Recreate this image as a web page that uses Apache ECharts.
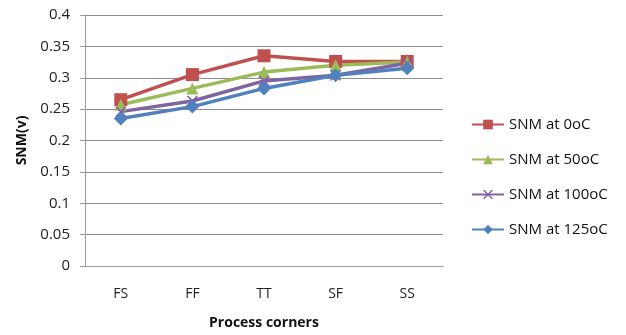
<!DOCTYPE html>
<html><head><meta charset="utf-8">
<script src="https://cdn.jsdelivr.net/npm/echarts@6/dist/echarts.min.js"></script>
<style>html,body{margin:0;padding:0;background:#fff}#c{width:626px;height:335px}</style>
</head><body><div id="c"></div>
<script>
var categories = ['FS', 'FF', 'TT', 'SF', 'SS'];
var snm0 = [0.265, 0.305, 0.335, 0.326, 0.326];
var snm50 = [0.257, 0.283, 0.309, 0.320, 0.325];
var snm100 = [0.246, 0.263, 0.295, 0.304, 0.323];
var snm125 = [0.235, 0.254, 0.283, 0.304, 0.315];
var seriesNames = ['SNM at 0oC', 'SNM at 50oC', 'SNM at 100oC', 'SNM at 125oC'];
var yTicks = [0, 0.05, 0.1, 0.15, 0.2, 0.25, 0.3, 0.35, 0.4];

var font = 'Open Sans, Liberation Sans, sans-serif';
var xPath = 'path://M1,0 L5,4 L9,0 L10,1 L6,5 L10,9 L9,10 L5,6 L1,10 L0,9 L4,5 L0,1 Z';
function mk(name, data, color, symbol, size) {
  return {
    name: name, type: 'line', data: data, symbol: symbol, symbolSize: size,
    lineStyle: { color: color, width: 3.5 },
    itemStyle: { color: color },
    showAllSymbol: true
  };
}
var chart = echarts.init(document.getElementById('c'));
chart.setOption({
  animation: false,
  grid: { left: 85, right: 183, top: 15, bottom: 69 },
  legend: {
    orient: 'vertical', left: 466, top: 112, itemGap: 20,
    itemWidth: 32, itemHeight: 12,
    textStyle: { fontFamily: font, fontSize: 15, color: '#111' },
    data: seriesNames
  },
  xAxis: {
    type: 'category', data: categories, boundaryGap: true,
    name: 'Process corners', nameLocation: 'middle', nameGap: 50,
    nameTextStyle: { fontFamily: font, fontSize: 14, fontWeight: 'bold', color: '#111' },
    axisLine: { lineStyle: { color: '#999', width: 1 } },
    axisTick: { alignWithLabel: false, length: 6, lineStyle: { color: '#999' } },
    axisLabel: { fontFamily: font, fontSize: 14, color: '#222', margin: 21 }
  },
  yAxis: {
    type: 'value', min: 0, max: 0.4, interval: 0.05,
    name: 'SNM(v)', nameLocation: 'middle', nameGap: 55,
    nameTextStyle: { fontFamily: font, fontSize: 14, fontWeight: 'bold', color: '#111' },
    axisLine: { show: true, lineStyle: { color: '#999', width: 1 } },
    axisTick: { show: true, length: 5, lineStyle: { color: '#999' } },
    axisLabel: { fontFamily: font, fontSize: 15, color: '#222', margin: 15,
      formatter: function (v) { return String(parseFloat(v.toFixed(2))); } },
    splitLine: { lineStyle: { color: '#8c8c8c', width: 1 } }
  },
  series: [
    mk(seriesNames[0], snm0, '#C0504D', 'rect', 13),
    mk(seriesNames[1], snm50, '#9BBB59', 'triangle', 12),
    mk(seriesNames[2], snm100, '#8064A2', xPath, 11),
    mk(seriesNames[3], snm125, '#4F81BD', 'diamond', 14)
  ]
});
</script></body></html>
